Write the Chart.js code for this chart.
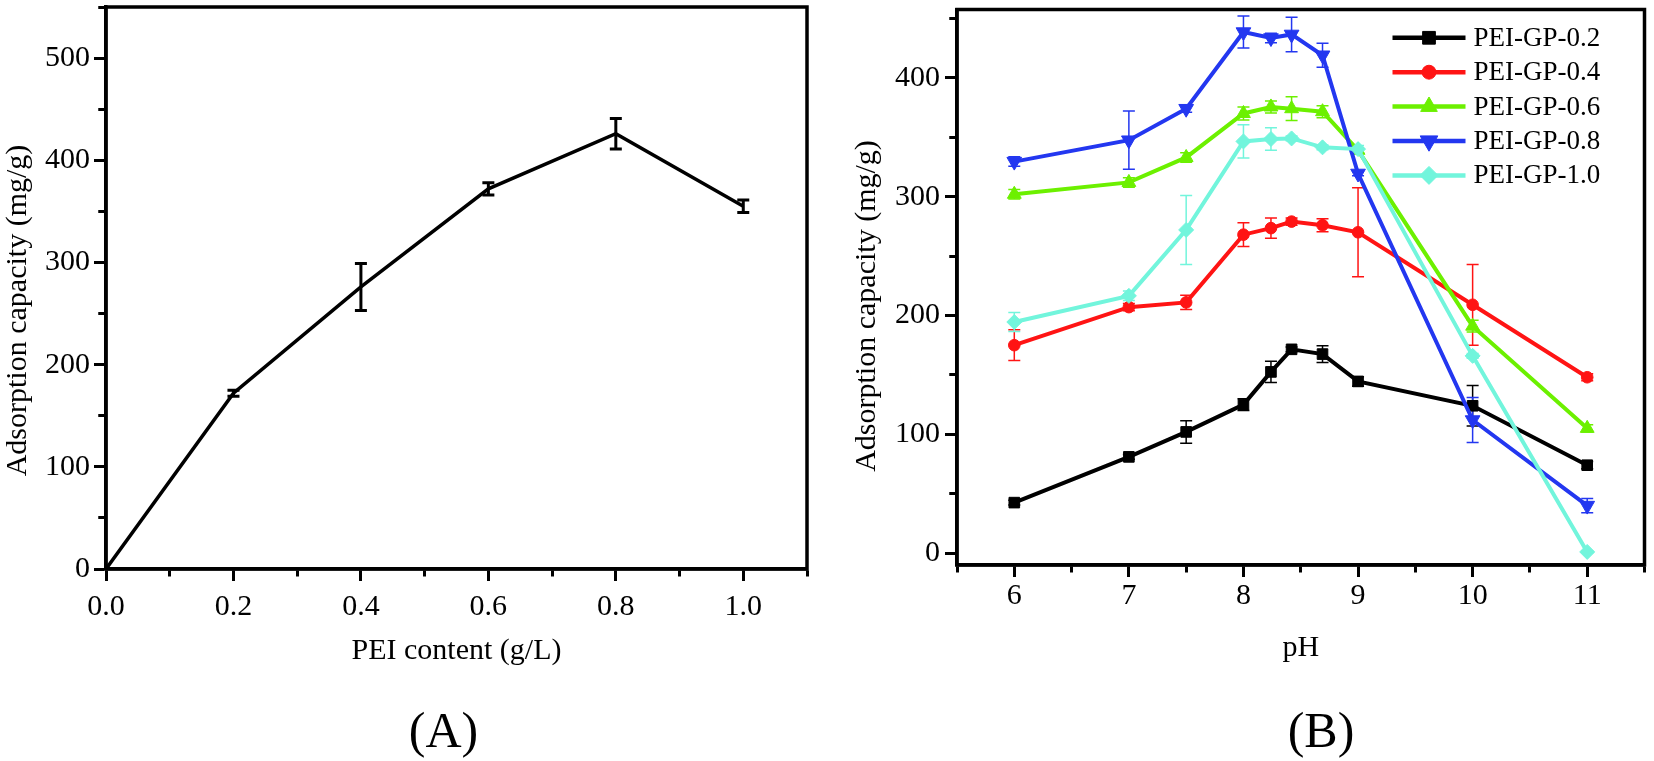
<!DOCTYPE html>
<html>
<head>
<meta charset="utf-8">
<script src="https://cdn.jsdelivr.net/npm/chart.js@4.4.1/dist/chart.umd.min.js"></script>
<style>
  html, body { margin: 0; padding: 0; background: #fff; }
  body { width: 1654px; height: 761px; position: relative; overflow: hidden; font-family: "Liberation Serif", "Times New Roman", serif; }
  .pane { position: absolute; top: 0; height: 761px; }
  .cap { position: absolute; top: 705px; font-size: 50px; line-height: 50px; color: #000; transform: translateX(-50%); white-space: nowrap; }
</style>
</head>
<body>
<div class="pane" style="left:0;width:830px;"><canvas id="chartA" width="830" height="761"></canvas></div>
<div class="pane" style="left:830px;width:824px;"><canvas id="chartB" width="824" height="761"></canvas></div>
<div class="cap" style="left:443.5px;">(A)</div>
<div class="cap" style="left:1321px;">(B)</div>
<script>
// ---------------- Data: panel (A) ----------------
const peiContent = [0, 0.2, 0.4, 0.6, 0.8, 1.0];
const capacityA = [0, 172, 276, 372, 426, 355];
const capacityAErr = [0, 3, 23, 6, 15, 6];

// ---------------- Data: panel (B) ----------------
const pHValues = [6, 7, 7.5, 8, 8.24, 8.42, 8.69, 9, 10, 11];
const seriesNames = ['PEI-GP-0.2', 'PEI-GP-0.4', 'PEI-GP-0.6', 'PEI-GP-0.8', 'PEI-GP-1.0'];
const gp02 = [42.5, 81, 102, 125, 152.5, 171.5, 167.5, 144.5, 124, 74];
const gp02Err = [2, 2, 9.5, 5, 9, 2, 7, 4, 17, 3];
const gp04 = [175, 207, 211, 268, 273.5, 279, 276, 270, 209, 148];
const gp04Err = [13, 3, 6, 10, 8.5, 3, 5.5, 37.5, 34, 3];
const gp06 = [302, 312, 333, 370, 375.5, 374, 371.5, 339, 191, 105];
const gp06Err = [4, 4, 4, 5.5, 5, 10, 5, 2, 5, 3];
const gp08 = [329.5, 347.5, 374, 438.5, 433.5, 436.5, 419, 319.5, 112, 40];
const gp08Err = [4, 24.5, 3, 13.5, 4, 14.5, 10, 2, 19, 6];
const gp10 = [194.5, 216.5, 272, 346.5, 348.5, 349, 341.5, 340, 166, 1];
const gp10Err = [8, 4, 29, 14, 9.5, 2, 2, 3, 2, 1];

// tick label helpers
const xTicksA = [0, 0.2, 0.4, 0.6, 0.8, 1.0];
const yTicksA = [0, 100, 200, 300, 400, 500];
const xTicksB = [6, 7, 8, 9, 10, 11];
const yTicksB = [0, 100, 200, 300, 400];

Chart.defaults.font.family = '"Liberation Serif", "Times New Roman", serif';
Chart.defaults.color = '#000';

const near = (arr, v) => arr.some(t => Math.abs(t - v) < 1e-6);

// error bars drawn through the chart scales
const errorBarPlugin = {
  id: 'errorBars',
  beforeDatasetsDraw(chart) {
    const { ctx } = chart;
    const xs = chart.scales.x, ys = chart.scales.y;
    chart.data.datasets.forEach((ds, i) => {
      if (!ds.errorBars) return;
      ctx.save();
      ctx.strokeStyle = ds.borderColor;
      ctx.lineWidth = ds.errorBarWidth || 1.5;
      const w = ds.errorCap || 6;
      ds.data.forEach((p, j) => {
        const e = ds.errorBars[j];
        if (!e) return;
        const x = xs.getPixelForValue(p.x);
        const y1 = ys.getPixelForValue(p.y - e);
        const y2 = ys.getPixelForValue(p.y + e);
        ctx.beginPath();
        ctx.moveTo(x, y1); ctx.lineTo(x, y2);
        ctx.moveTo(x - w, y1); ctx.lineTo(x + w, y1);
        ctx.moveTo(x - w, y2); ctx.lineTo(x + w, y2);
        ctx.stroke();
      });
      ctx.restore();
    });
  }
};

// full box frame around plot area
const framePlugin = {
  id: 'frame',
  afterDraw(chart) {
    const { ctx, chartArea: a } = chart;
    ctx.save();
    ctx.strokeStyle = '#000';
    ctx.lineWidth = 3.5;
    ctx.strokeRect(a.left, a.top, a.right - a.left, a.bottom - a.top);
    ctx.restore();
  }
};

// legend inside plot area (line + marker + label)
const insideLegendPlugin = {
  id: 'insideLegend',
  afterDraw(chart) {
    const { ctx, chartArea: a } = chart;
    chart.data.datasets.forEach((ds, i) => {
      const y = a.top + 28.3 + i * 34.4;
      const x0 = a.right - 252, x1 = a.right - 179, xm = (x0 + x1) / 2;
      ctx.save();
      ctx.strokeStyle = ds.borderColor;
      ctx.lineWidth = 4.5;
      ctx.beginPath(); ctx.moveTo(x0, y); ctx.lineTo(x1, y); ctx.stroke();
      ctx.fillStyle = ds.pointBackgroundColor;
      ctx.strokeStyle = ds.borderColor;
      ctx.lineWidth = 1;
      Chart.helpers.drawPoint(ctx, {
        pointStyle: ds.pointStyle,
        rotation: ds.pointRotation || 0,
        radius: ds.pointRadius * 1.2,
        borderWidth: 1
      }, xm, y);
      ctx.fillStyle = '#000';
      ctx.font = '27px "Liberation Serif", "Times New Roman", serif';
      ctx.textAlign = 'left';
      ctx.textBaseline = 'middle';
      ctx.fillText(ds.label, a.right - 171, y + 1);
      ctx.restore();
    });
  }
};

function minorDash(isLeft) {
  return ctx => {
    const v = ctx.tick ? ctx.tick.value : 0;
    const major = ctx.scale.options.majorTicks;
    if (near(major, v)) return [];
    return isLeft ? [6, 4.25] : [6, 100];
  };
}
function minorDashOffset(isLeft) {
  return ctx => {
    const v = ctx.tick ? ctx.tick.value : 0;
    const major = ctx.scale.options.majorTicks;
    if (near(major, v)) return 0;
    return isLeft ? 6 : 0;
  };
}

function axisCommon(extra) {
  return Object.assign({
    type: 'linear',
    grid: {
      display: true,
      drawOnChartArea: false,
      drawTicks: true,
      tickLength: 12,
      tickWidth: 3,
      tickColor: '#000'
    },
    border: { display: true, width: 3.5, color: '#000' }
  }, extra);
}

// ---------------- Chart (A) ----------------
new Chart(document.getElementById('chartA'), {
  type: 'line',
  data: {
    datasets: [{
      label: 'PEI content',
      data: peiContent.map((x, i) => ({ x, y: capacityA[i] })),
      borderColor: '#000',
      backgroundColor: '#000',
      borderWidth: 3.5,
      pointRadius: 0,
      tension: 0,
      errorBars: capacityAErr,
      errorBarWidth: 3,
      errorCap: 6
    }]
  },
  options: {
    responsive: false,
    animation: false,
    events: [],
    layout: { padding: { left: 0, top: 7, right: 23, bottom: 0 } },
    plugins: { legend: { display: false }, tooltip: { enabled: false } },
    scales: {
      x: axisCommon({
        position: 'bottom',
        min: 0, max: 1.1,
        majorTicks: xTicksA,
        ticks: {
          stepSize: 0.1, autoSkip: false, maxRotation: 0, padding: 8.5,
          font: { size: 30 }, color: '#000',
          callback: v => near(xTicksA, v) ? v.toFixed(1) : ''
        },
        grid: {
          display: true, drawOnChartArea: false, drawTicks: true,
          tickLength: 12, tickWidth: 3, tickColor: '#000',
          tickBorderDash: minorDash(false), tickBorderDashOffset: minorDashOffset(false)
        },
        title: { display: true, text: 'PEI content (g/L)', font: { size: 30 }, color: '#000', padding: { top: 0, bottom: 91.5 } },
        afterFit: s => { s.height = 192; s.paddingLeft = 0; s.paddingRight = 0; }
      }),
      y: axisCommon({
        position: 'left',
        min: 0, max: 550,
        majorTicks: yTicksA,
        ticks: {
          stepSize: 50, autoSkip: false, padding: 4, includeBounds: false,
          font: { size: 30 }, color: '#000',
          callback: v => near(yTicksA, v) ? String(v) : ''
        },
        grid: {
          display: true, drawOnChartArea: false, drawTicks: true,
          tickLength: 12, tickWidth: 3, tickColor: '#000',
          tickBorderDash: minorDash(true), tickBorderDashOffset: minorDashOffset(true)
        },
        title: { display: true, text: 'Adsorption capacity (mg/g)      ', font: { size: 30 }, color: '#000', padding: { top: 0, bottom: 0 } },
        afterFit: s => { s.width = 106; s.paddingTop = 0; s.paddingBottom = 0; }
      })
    }
  },
  plugins: [errorBarPlugin, framePlugin]
});

// ---------------- Chart (B) ----------------
const seriesValues = [gp02, gp04, gp06, gp08, gp10];
const seriesErrors = [gp02Err, gp04Err, gp06Err, gp08Err, gp10Err];
const seriesColors = ['#000000', '#ff1414', '#6cf000', '#2337f0', '#72f5dc'];
const seriesMarkers = ['rect', 'circle', 'triangle', 'triangle', 'rectRot'];
const seriesRotation = [0, 0, 0, 180, 0];
const seriesRadius = [7.5, 5.8, 8, 8.5, 7.5];

new Chart(document.getElementById('chartB'), {
  type: 'line',
  data: {
    datasets: seriesNames.map((name, k) => ({
      label: name,
      data: pHValues.map((x, i) => ({ x, y: seriesValues[k][i] })),
      borderColor: seriesColors[k],
      backgroundColor: seriesColors[k],
      pointBackgroundColor: seriesColors[k],
      pointBorderColor: seriesColors[k],
      pointBorderWidth: 1,
      pointStyle: seriesMarkers[k],
      pointRotation: seriesRotation[k],
      pointRadius: seriesRadius[k],
      borderWidth: 4,
      tension: 0,
      order: seriesNames.length - 1 - k,
      errorBars: seriesErrors[k],
      errorBarWidth: 1.5,
      errorCap: 6
    }))
  },
  options: {
    responsive: false,
    animation: false,
    events: [],
    layout: { padding: { left: 0, top: 4, right: 5, bottom: 0 } },
    plugins: { legend: { display: false }, tooltip: { enabled: false } },
    scales: {
      x: axisCommon({
        position: 'bottom',
        min: 5.5, max: 11.5,
        majorTicks: xTicksB,
        ticks: {
          stepSize: 0.5, autoSkip: false, maxRotation: 0, padding: 1, includeBounds: false,
          font: { size: 30 }, color: '#000',
          callback: v => near(xTicksB, v) ? String(v) : ''
        },
        grid: {
          display: true, drawOnChartArea: false, drawTicks: true,
          tickLength: 12, tickWidth: 3, tickColor: '#000',
          tickBorderDash: minorDash(false), tickBorderDashOffset: minorDashOffset(false)
        },
        title: { display: true, text: 'pH', font: { size: 30 }, color: '#000', padding: { top: 0, bottom: 94.5 } },
        afterFit: s => { s.height = 196; s.paddingLeft = 0; s.paddingRight = 0; }
      }),
      y: axisCommon({
        position: 'left',
        min: -10, max: 457.5,
        majorTicks: yTicksB,
        ticks: {
          stepSize: 50, autoSkip: false, padding: 5, includeBounds: false,
          font: { size: 30 }, color: '#000',
          callback: v => near(yTicksB, v) ? String(v) : ''
        },
        grid: {
          display: true, drawOnChartArea: false, drawTicks: true,
          tickLength: 12, tickWidth: 3, tickColor: '#000',
          tickBorderDash: minorDash(true), tickBorderDashOffset: minorDashOffset(true)
        },
        title: { display: true, text: 'Adsorption capacity (mg/g)     ', font: { size: 30 }, color: '#000', padding: { top: 19, bottom: 0 } },
        afterFit: s => { s.width = 127; s.paddingTop = 0; s.paddingBottom = 0; }
      })
    }
  },
  plugins: [errorBarPlugin, framePlugin, insideLegendPlugin]
});
</script>
</body>
</html>
